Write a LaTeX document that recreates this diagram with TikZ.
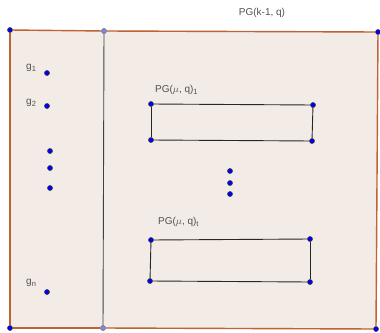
\documentclass[tikz,border=0pt]{standalone}
\usepackage{fontspec}
\setmainfont{Liberation Sans}
\usetikzlibrary{backgrounds}
\definecolor{pgfill}{RGB}{243,235,229}
\definecolor{pgedge}{RGB}{192,98,52}
\definecolor{pgtext}{RGB}{80,80,80}
\definecolor{vblue}{RGB}{0,0,245}
\definecolor{vlight}{RGB}{118,138,232}
\tikzset{
  vdot/.style={circle,fill=vblue,draw=black!80,line width=0.5pt,inner sep=0pt,minimum size=5pt},
  vsoft/.style={vdot,fill=vlight,draw=black!60},
  lbl/.style={text=pgtext,font=\fontsize{10}{11}\selectfont,inner sep=0pt},
  rim/.style={draw=pgedge,line width=1.4pt},
  box/.style={draw=black!85,line width=0.9pt}
}
\newcommand{\lsub}[1]{\raisebox{-0.45ex}{\fontsize{7.5}{8}\selectfont#1}}
\begin{document}
\begin{tikzpicture}[x=1pt,y=-1pt]
\useasboundingbox (0,0) rectangle (380,332);
            % Vertices
\node[vdot]  (a) at (10,30) {};
\node[vsoft] (b) at (104,31) {};
\node[vdot]  (c) at (378,32) {};
\node[vdot]  (d) at (376,329) {};
\node[vsoft] (e) at (103,328) {};
\node[vdot]  (f) at (10,328) {};
%Points g
\node[vdot] (g1) at (47,73) {};
\node[vdot] (g2) at (47,106) {};
\node[vdot] (g3) at (50,151) {};
\node[vdot] (g4) at (50,168) {};
\node[vdot] (g5) at (50,188) {};
\node[vdot] (gn) at (47,292) {};
%Box 1
\node[vdot] (p1) at (151,104) {};
\node[vdot] (p2) at (313,105) {};
\node[vdot] (p3) at (312,141) {};
\node[vdot] (p4) at (151,140) {};
%Box t
\node[vdot] (r1) at (151,240) {};
\node[vdot] (r2) at (310,239) {};
\node[vdot] (r3) at (310,282) {};
\node[vdot] (r4) at (150,281) {};
%Middle dots
\node[vdot] (m1) at (230,171) {};
\node[vdot] (m2) at (230,183) {};
\node[vdot] (m3) at (230,194) {};
%Labels
\node[lbl] (tk) at (262,13) {PG(k-1, q)};
\node[lbl,anchor=west] (l1) at (26,68) {g\lsub{1}};
\node[lbl,anchor=west] (l2) at (26,103) {g\lsub{2}};
\node[lbl,anchor=west] (ln) at (26,283) {g\lsub{n}};
\node[lbl,anchor=west] (t1) at (155,90) {PG($\mu$, q)\lsub{1}};
\node[lbl,anchor=west] (tt) at (158,222) {PG($\mu$, q)\lsub{t}};
%Region
\begin{scope}[on background layer]
\fill[pgfill] (a.center) -- (c.center) -- (d.center) -- (f.center) -- cycle;
\end{scope}
\draw[rim] (a) -- (b);
\draw[rim] (b) -- (c);
\draw[rim] (c) -- (d);
\draw[rim] (d) -- (e);
\draw[rim] (e) -- (f);
\draw[rim] (f) -- (a);
\draw[draw=black!75,line width=0.9pt] (b) -- (e);
%Boxes
\draw[box] (p1) -- (p2);
\draw[box] (p2) -- (p3);
\draw[box] (p3) -- (p4);
\draw[box] (p4) -- (p1);
\draw[box] (r1) -- (r2);
\draw[box] (r2) -- (r3);
\draw[box] (r3) -- (r4);
\draw[box] (r4) -- (r1);
\end{tikzpicture}
\end{document}
